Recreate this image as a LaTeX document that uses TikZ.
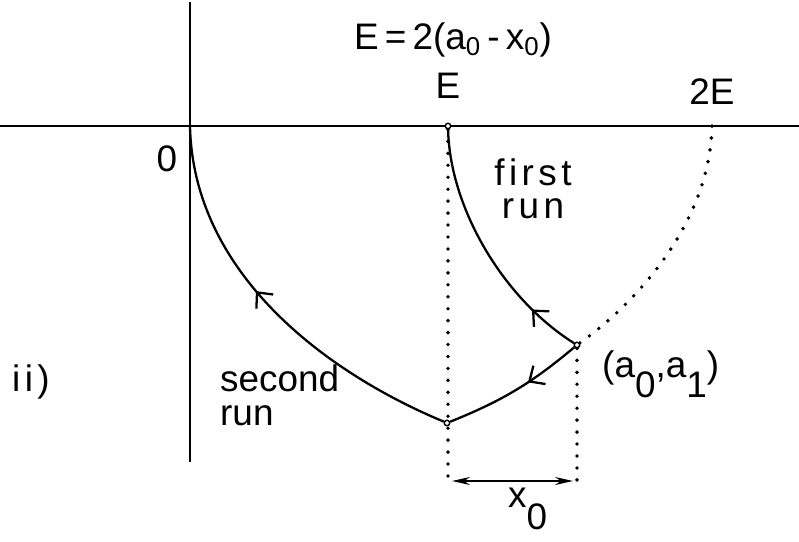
\documentclass[tikz,border=0pt]{standalone}
\usepackage{fontspec}
\setmainfont{Liberation Sans}
\usetikzlibrary{arrows.meta,decorations.markings,positioning}

\newcommand{\lsub}[2][1.05ex]{\raisebox{-#1}{#2}}

\begin{document}
\begin{tikzpicture}[
    x=0.2mm, y=-0.2mm,
    lbl/.style={font=\fontsize{21}{19}\selectfont},
    spaced/.style={font=\fontsize{21}{19}\selectfont\addfontfeatures{LetterSpace=12}},
    axis/.style={line width=1pt},
    run/.style={line width=1.3pt},
    guide/.style={line width=2.2pt, line cap=round, dash pattern=on 0pt off 6.8pt},
    pt/.style={circle, draw, line width=0.8pt, fill=white, inner sep=0pt, minimum size=1.1mm},
    midarrow/.style={postaction={decorate}, decoration={markings,
        mark=at position #1 with {\arrow{Straight Barb[length=2.4mm,width=4.4mm]}}}},
    twohead/.style={{Stealth[length=3.6mm,width=1.6mm]}-{Stealth[length=3.6mm,width=1.6mm]}, line width=1pt}
]
\useasboundingbox (0,0) rectangle (799,542);

% axes
\coordinate (xl) at (0,126);
\coordinate (xr) at (799,126);
\coordinate (yt) at (190,2);
\coordinate (yb) at (190,462);
\draw[axis] (xl) -- (xr);
\draw[axis] (yt) -- (yb);

% points
\coordinate (O) at (190,126);
\coordinate (twoE) at (712,126);
\node[pt] (pE) at (448,126) {};
\node[pt] (pA) at (577,345) {};
\node[pt] (pV) at (447,423) {};
\coordinate (bE) at (448,481);
\coordinate (bA) at (577,481);

% the two runs
\draw[run, midarrow=0.21] (pA) .. controls (505,300) and (450,210) .. (pE);
\draw[run, midarrow=0.4] (pA) to[bend left=9] (pV);
\draw[run, midarrow=0.56] (pV) .. controls (320,370) and (193,270) .. (O);

% dotted guides
\draw[guide] (pA) .. controls (640,300) and (710,220) .. (twoE);
\draw[guide] (pE) -- (bE);
\draw[guide] (pA) -- (bA);
\draw[twohead, shorten <=0.8mm, shorten >=0.8mm] (bE) -- (bA);

% labels
\node[lbl, anchor=base] (eqn) at (453,50) {E\,=\,2(a\textsubscript{0}\,-\,x\textsubscript{0})};
\node[lbl, above=3.5mm of pE] (lE) {E};
\node[lbl, above=3mm of twoE] (l2E) {2E};
\node[lbl, anchor=base] (lO) at (167,172) {0};
\node[spaced, align=center] (lfirst) at (533,189) {first\\run};
\node[lbl, align=left, anchor=base west] (lsecond) at (214,425) {second\\run};
\node[spaced, anchor=base] (lii) at (31,391) {ii)};
\node[lbl, anchor=base west] (lA) at (596,377) {(a\lsub{0},a\lsub{1})};
\node[lbl, anchor=base west, inner sep=1pt] (lx) at (506,507) {x\lsub[1.15ex]{0}};

\end{tikzpicture}
\end{document}
